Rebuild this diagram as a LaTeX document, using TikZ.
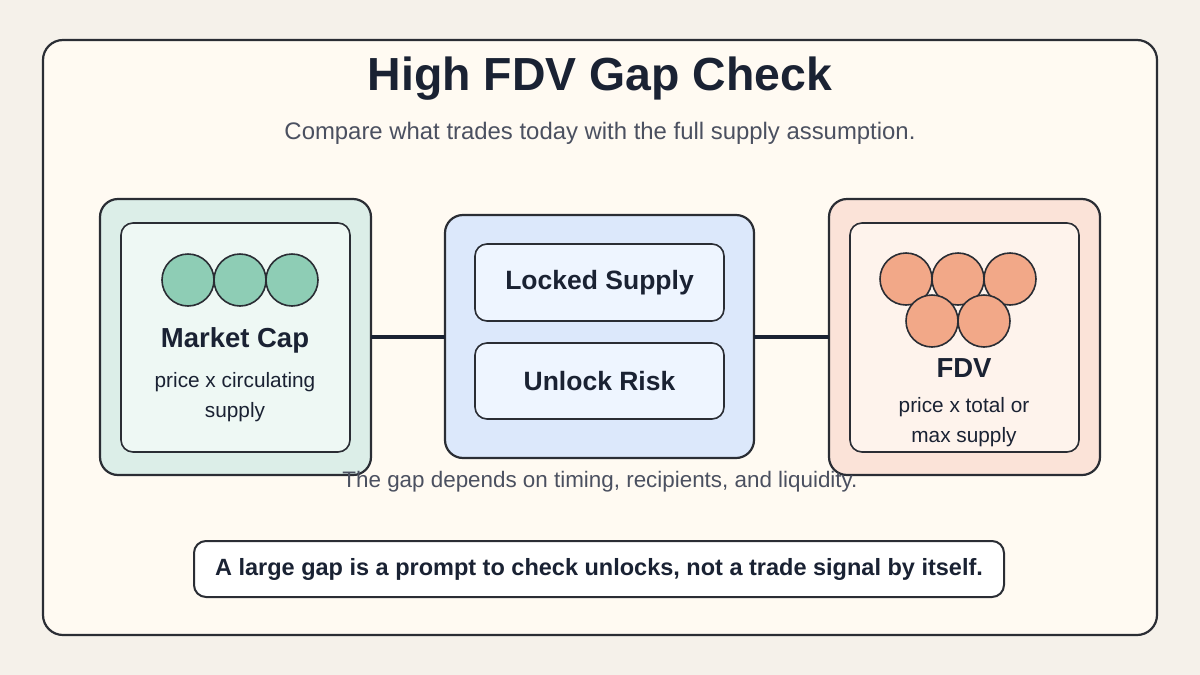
\documentclass[tikz,border=0pt]{standalone}
\usepackage{fontspec}
\setmainfont{Liberation Sans}
\setsansfont{Liberation Sans}
\definecolor{pagebg}{HTML}{F5F1EA}
\definecolor{cardbg}{HTML}{FFFAF2}
\definecolor{ink}{HTML}{2A2D34}
\definecolor{navy}{HTML}{1A2233}
\definecolor{muted}{HTML}{4B5060}
\definecolor{greenout}{HTML}{DCEEE8}
\definecolor{greenin}{HTML}{EEF8F4}
\definecolor{greencoin}{HTML}{8ECDB5}
\definecolor{blueout}{HTML}{DCE8FB}
\definecolor{bluein}{HTML}{EEF5FF}
\definecolor{pinkout}{HTML}{FBE3D8}
\definecolor{pinkin}{HTML}{FEF3EC}
\definecolor{pinkcoin}{HTML}{F2A888}
\tikzset{
  panel/.style={draw=ink, line width=2.2pt, rounded corners=18pt},
  innerbox/.style={draw=ink, line width=1.6pt, rounded corners=12pt},
  coin/.style={circle, draw=ink, line width=1.6pt, minimum size=52pt, inner sep=0pt},
  boldlbl/.style={text=navy, font=\bfseries\fontsize{27.5}{32}\selectfont},
  midlbl/.style={text=navy, font=\bfseries\fontsize{26.5}{32}\selectfont},
  sublbl/.style={text=navy, font=\fontsize{20.8}{30}\selectfont, align=center},
  link/.style={draw=navy, line width=4pt},
}
\begin{document}
\begin{tikzpicture}[x=1pt,y=-1pt]
\useasboundingbox (0,0) rectangle (1200,675);
\fill[pagebg] (0,0) rectangle (1200,675);
\draw[fill=cardbg, draw=ink, line width=2.2pt, rounded corners=20pt] (43,40) rectangle (1157,635);
\node[text=navy, font=\bfseries\fontsize{46.4}{54}\selectfont] (title) at (600,79) {High FDV Gap Check};
\node[text=muted, font=\fontsize{23.9}{28}\selectfont] (sub) at (600,133) {Compare what trades today with the full supply assumption.};
% left panel
\draw[panel, fill=greenout] (100,199) rectangle (371,475);
\node[inner sep=0pt, minimum width=271pt, minimum height=276pt] (mc) at (235.5,337) {};
\draw[innerbox, fill=greenin] (121,223) rectangle (350,452);
\node[coin, fill=greencoin] (g1) at (188,280) {};
\node[coin, fill=greencoin] (g2) at (240,280) {};
\node[coin, fill=greencoin] (g3) at (292,280) {};
\node[boldlbl] (mclbl) at (235,340) {Market Cap};
\node[sublbl] (mcsub) at (235,397) {price x circulating\\supply};
% middle panel
\draw[panel, fill=blueout] (445,215) rectangle (754,458);
\node[inner sep=0pt, minimum width=309pt, minimum height=243pt] (mid) at (599.5,337) {};
\node[innerbox, fill=bluein, minimum width=249pt, minimum height=77pt, midlbl] (lock) at (599.5,282.5) {Locked Supply};
\node[innerbox, fill=bluein, minimum width=249pt, minimum height=76pt, midlbl] (unl) at (599.5,381) {Unlock Risk};
% right panel
\draw[panel, fill=pinkout] (829,199) rectangle (1100,475);
\node[inner sep=0pt, minimum width=271pt, minimum height=276pt] (fdv) at (964.5,337) {};
\draw[innerbox, fill=pinkin] (850,223) rectangle (1079,452);
\node[coin, fill=pinkcoin] (p1) at (906,279) {};
\node[coin, fill=pinkcoin] (p2) at (958,279) {};
\node[coin, fill=pinkcoin] (p3) at (1010,279) {};
\node[coin, fill=pinkcoin] (p4) at (932,321) {};
\node[coin, fill=pinkcoin] (p5) at (984,321) {};
\node[boldlbl] (fdvlbl) at (964,368) {FDV};
\node[sublbl] (fdvsub) at (964,422) {price x total or\\max supply};
% connectors
\draw[link] (mc.east) -- (mid.west);
\draw[link] (mid.east) -- (fdv.west);
% caption
\node[text=muted, font=\fontsize{22.4}{26}\selectfont] (cap) at (600,482) {The gap depends on timing, recipients, and liquidity.};
% bottom note
\node[draw=ink, line width=2pt, rounded corners=12pt, fill=white, minimum width=810pt, minimum height=56pt, text=navy, font=\bfseries\fontsize{23.5}{28}\selectfont] (note) at (599,569) {A large gap is a prompt to check unlocks, not a trade signal by itself.};
\end{tikzpicture}
\end{document}
